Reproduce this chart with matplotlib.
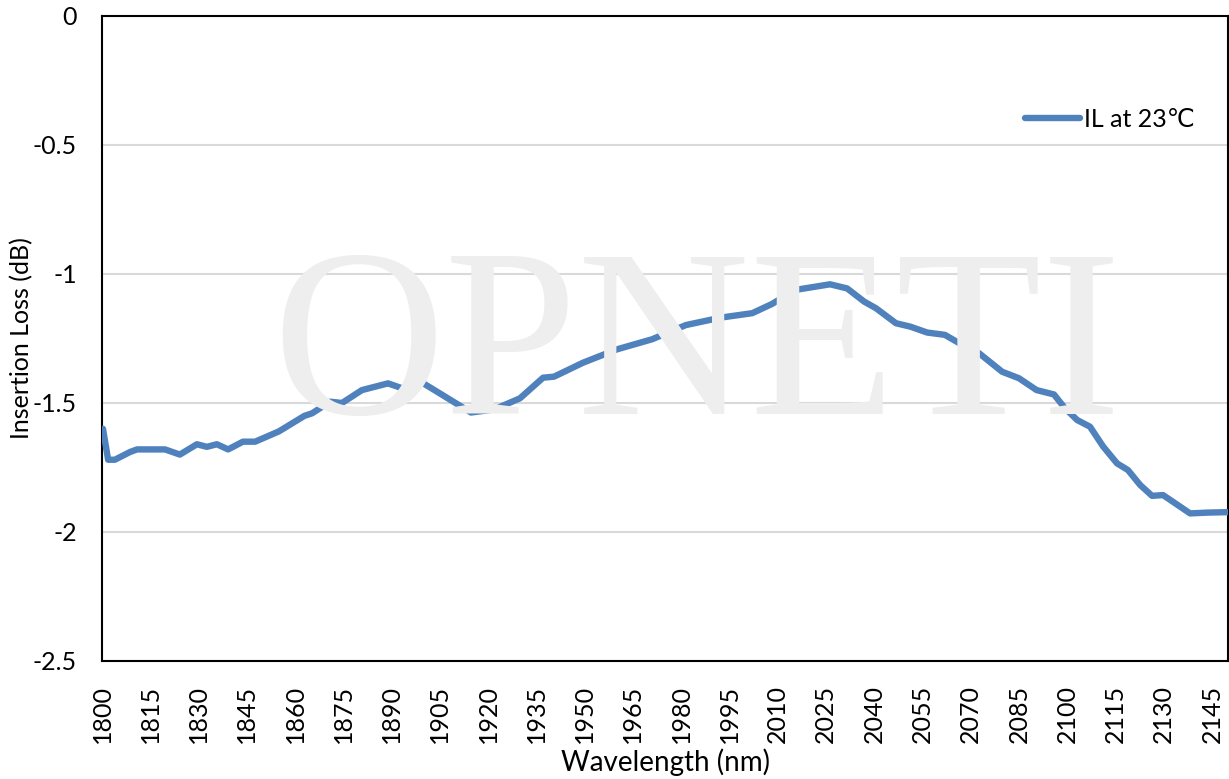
import matplotlib.pyplot as plt

# Insertion loss curve
wavelength = [1800.3, 1801.9, 1804.0, 1808.7, 1810.9, 1819.6, 1824.2, 1829.5, 1832.6,
              1835.7, 1839.2, 1843.8, 1847.6, 1855.0, 1862.9, 1865.3, 1870.9, 1874.6,
              1880.8, 1888.9, 1894.2, 1899.5, 1906.6, 1914.7, 1921.9, 1929.9, 1937.1,
              1940.5, 1949.5, 1960.1, 1971.0, 1981.5, 1992.4, 2002.1, 2008.3, 2015.4,
              2026.3, 2031.6, 2036.9, 2040.6, 2046.8, 2051.2, 2056.5, 2062.0, 2069.2,
              2072.6, 2079.8, 2085.0, 2090.5, 2095.9, 2099.3, 2103.1, 2107.1, 2111.2,
              2115.5, 2118.9, 2122.7, 2126.4, 2129.8, 2132.9, 2138.2, 2143.5, 2150.0]
il_23c = [-1.60, -1.72, -1.72, -1.69, -1.68, -1.68, -1.70, -1.66, -1.67,
          -1.66, -1.68, -1.65, -1.65, -1.61, -1.55, -1.54, -1.495, -1.50,
          -1.45, -1.424, -1.447, -1.421, -1.475, -1.537, -1.525, -1.482, -1.402,
          -1.398, -1.344, -1.292, -1.253, -1.198, -1.169, -1.152, -1.116, -1.062,
          -1.040, -1.056, -1.107, -1.133, -1.191, -1.204, -1.227, -1.236, -1.288,
          -1.307, -1.379, -1.404, -1.450, -1.467, -1.52, -1.566, -1.592, -1.669,
          -1.734, -1.760, -1.818, -1.860, -1.857, -1.883, -1.928, -1.925, -1.923]

x_ticks = list(range(1800, 2146, 15))
y_ticks = [0, -0.5, -1, -1.5, -2, -2.5]
y_tick_labels = ['0', '-0.5', '-1', '-1.5', '-2', '-2.5']

plt.rcParams['font.family'] = ['Lato', 'DejaVu Sans']

fig = plt.figure(figsize=(12.29, 7.79), dpi=100)
ax = fig.add_axes([0.083, 0.1515, 0.9162, 0.828])

# watermark
fig.text(0.567, 0.543, 'OPNETI', family='Liberation Serif', fontsize=172,
         color='#EEEEEE', ha='center', va='center', zorder=0)
ax.set_facecolor('none')

ax.plot(wavelength, il_23c, color='#4F81BD', linewidth=4.6,
        solid_joinstyle='round', solid_capstyle='round', label='IL at 23℃', zorder=3)

ax.set_xlim(1800, 2150)
ax.set_ylim(-2.5, 0)
ax.set_xticks(x_ticks)
ax.set_xticklabels([str(t) for t in x_ticks], rotation=90)
ax.set_yticks(y_ticks)
ax.set_yticklabels(y_tick_labels)
ax.tick_params(axis='both', length=0, labelsize=18)
ax.tick_params(axis='x', pad=17)
ax.tick_params(axis='y', pad=18)

ax.grid(axis='y', color='#D9D9D9', linewidth=1.5, zorder=1)
ax.set_axisbelow(True)
for s in ax.spines.values():
    s.set_color('black')
    s.set_linewidth(1.5)

ax.set_xlabel('Wavelength (nm)', fontsize=20)
ax.xaxis.set_label_coords(0.5, -0.136)
ax.set_ylabel('Insertion Loss (dB)', fontsize=18)
ax.yaxis.set_label_coords(-0.061, 0.5)

ax.legend(loc='upper left', bbox_to_anchor=(0.8, 0.893), frameon=False,
          fontsize=18, handlelength=2.2, handletextpad=0.15)

fig.savefig('out.png', dpi=100)
